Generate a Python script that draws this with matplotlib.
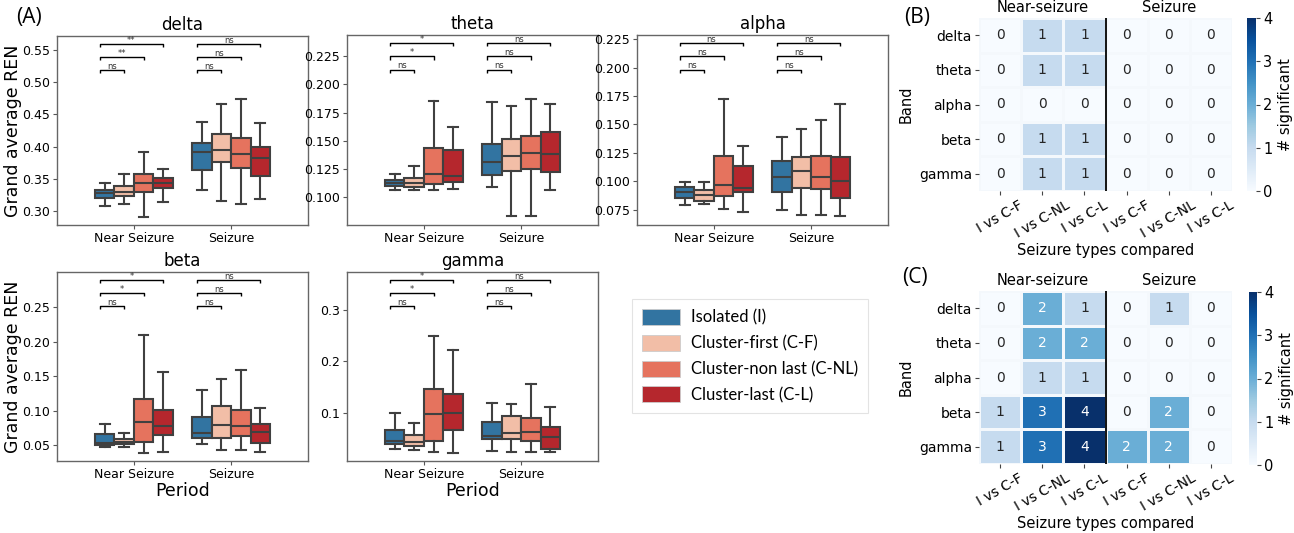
import matplotlib
matplotlib.use("Agg")
import matplotlib.pyplot as plt
import matplotlib.transforms as mtransforms
from matplotlib.patches import Patch
import numpy as np

# ---------------- data ----------------
bands = ["delta", "theta", "alpha", "beta", "gamma"]
periods = ["Near Seizure", "Seizure"]
types = ["Isolated (I)", "Cluster-first (C-F)", "Cluster-non last (C-NL)", "Cluster-last (C-L)"]
type_colors = ["#3274a1", "#f2bea7", "#e5735e", "#b5272d"]

# box stats: [whislo, q1, med, q3, whishi] per type, for Near Seizure and Seizure
delta_near = [[0.308, 0.320, 0.328, 0.333, 0.344], [0.310, 0.323, 0.330, 0.339, 0.357],
              [0.291, 0.330, 0.343, 0.357, 0.392], [0.314, 0.335, 0.343, 0.351, 0.365]]
delta_seiz = [[0.333, 0.364, 0.392, 0.406, 0.439], [0.315, 0.376, 0.395, 0.420, 0.467],
              [0.311, 0.367, 0.388, 0.413, 0.474], [0.318, 0.355, 0.383, 0.399, 0.437]]
theta_near = [[0.1068, 0.1103, 0.1127, 0.1150, 0.1203], [0.1062, 0.1091, 0.1124, 0.1168, 0.1277],
              [0.1062, 0.1121, 0.1206, 0.1433, 0.1855], [0.1074, 0.1136, 0.1189, 0.1422, 0.1625]]
theta_seiz = [[0.1089, 0.1198, 0.1315, 0.1469, 0.1840], [0.0835, 0.1230, 0.1369, 0.1519, 0.1808],
              [0.0835, 0.1248, 0.1389, 0.1543, 0.1873], [0.1068, 0.1221, 0.1386, 0.1581, 0.1825]]
alpha_near = [[0.0794, 0.0856, 0.0906, 0.0950, 0.0997], [0.0800, 0.0829, 0.0879, 0.0920, 0.0997],
              [0.0753, 0.0873, 0.0964, 0.1226, 0.1725], [0.0730, 0.0903, 0.0938, 0.1132, 0.1314]]
alpha_seiz = [[0.0744, 0.0903, 0.1041, 0.1182, 0.1390], [0.0706, 0.0938, 0.1088, 0.1217, 0.1460],
              [0.0706, 0.0929, 0.1038, 0.1223, 0.1540], [0.0691, 0.0853, 0.1003, 0.1217, 0.1683]]
beta_near = [[0.0481, 0.0505, 0.0538, 0.0659, 0.0803], [0.0481, 0.0519, 0.0553, 0.0587, 0.0673],
             [0.0394, 0.0548, 0.0841, 0.1163, 0.2091], [0.0404, 0.0649, 0.0779, 0.1005, 0.1553]]
beta_seiz = [[0.0524, 0.0601, 0.0673, 0.0913, 0.1303], [0.0428, 0.0611, 0.0793, 0.1072, 0.1462],
             [0.0428, 0.0635, 0.0779, 0.1014, 0.1596], [0.0399, 0.0538, 0.0692, 0.0812, 0.1034]]
gamma_near = [[0.0314, 0.0404, 0.0468, 0.0673, 0.1000], [0.0295, 0.0365, 0.0455, 0.0590, 0.0814],
              [0.0256, 0.0462, 0.0981, 0.1474, 0.2500], [0.0244, 0.0673, 0.1006, 0.1365, 0.2218]]
gamma_seiz = [[0.0269, 0.0500, 0.0570, 0.0840, 0.1205], [0.0256, 0.0506, 0.0615, 0.0949, 0.1173],
              [0.0250, 0.0474, 0.0641, 0.0917, 0.1558], [0.0256, 0.0314, 0.0551, 0.0737, 0.1122]]

box_data = {"delta": (delta_near, delta_seiz), "theta": (theta_near, theta_seiz),
            "alpha": (alpha_near, alpha_seiz), "beta": (beta_near, beta_seiz),
            "gamma": (gamma_near, gamma_seiz)}

# significance labels: I vs C-F, I vs C-NL, I vs C-L
sig_near = {"delta": ["ns", "**", "**"], "theta": ["ns", "*", "*"], "alpha": ["ns", "ns", "ns"],
            "beta": ["ns", "*", "*"], "gamma": ["ns", "*", "*"]}
sig_seiz = {b: ["ns", "ns", "ns"] for b in bands}

ylims = {"delta": (0.278, 0.572), "theta": (0.0755, 0.2436), "alpha": (0.0615, 0.2288),
         "beta": (0.0274, 0.3005), "gamma": (0.0083, 0.3724)}
yticks = {"delta": [0.30, 0.35, 0.40, 0.45, 0.50, 0.55],
          "theta": [0.100, 0.125, 0.150, 0.175, 0.200, 0.225],
          "alpha": [0.075, 0.100, 0.125, 0.150, 0.175, 0.200, 0.225],
          "beta": [0.05, 0.10, 0.15, 0.20, 0.25],
          "gamma": [0.1, 0.2, 0.3]}
ytick_fmt = {"delta": "{:.2f}", "theta": "{:.3f}", "alpha": "{:.3f}", "beta": "{:.2f}", "gamma": "{:.1f}"}

heat_cols = ["I vs C-F", "I vs C-NL", "I vs C-L", "I vs C-F", "I vs C-NL", "I vs C-L"]
heat_B = [[0, 1, 1, 0, 0, 0],
          [0, 1, 1, 0, 0, 0],
          [0, 0, 0, 0, 0, 0],
          [0, 1, 1, 0, 0, 0],
          [0, 1, 1, 0, 0, 0]]
heat_C = [[0, 2, 1, 0, 1, 0],
          [0, 2, 2, 0, 0, 0],
          [0, 1, 1, 0, 0, 0],
          [1, 3, 4, 0, 2, 0],
          [1, 3, 4, 2, 2, 0]]

# ---------------- figure ----------------
W, H = 1294, 533
fig = plt.figure(figsize=(W / 100, H / 100), dpi=100)
plt.rcParams["font.family"] = "DejaVu Sans"


def rect(x0, y0, x1, y1):
    return [x0 / W, 1 - y1 / H, (x1 - x0) / W, (y1 - y0) / H]


EDGE = "#404040"
ax_rects = {"delta": (57, 36, 308, 225), "theta": (347, 35, 598, 225), "alpha": (637, 35, 888, 225),
            "beta": (57, 272, 308, 461), "gamma": (347, 272, 598, 461)}
offsets = [-0.3, -0.1, 0.1, 0.3]

for band in bands:
    ax = fig.add_axes(rect(*ax_rects[band]))
    near, seiz = box_data[band]
    for pi, pdata in enumerate((near, seiz)):
        for ti, st in enumerate(pdata):
            s = dict(whislo=st[0], q1=st[1], med=st[2], q3=st[3], whishi=st[4], fliers=[])
            ax.bxp([s], positions=[pi + offsets[ti]], widths=0.2, capwidths=0.1,
                   patch_artist=True, showfliers=False, manage_ticks=False,
                   boxprops=dict(facecolor=type_colors[ti], edgecolor=EDGE, linewidth=1.5),
                   whiskerprops=dict(color=EDGE, linewidth=1.5),
                   capprops=dict(color=EDGE, linewidth=1.5),
                   medianprops=dict(color=EDGE, linewidth=1.5))
    ax.set_xlim(-0.79, 1.79)
    ax.set_ylim(*ylims[band])
    ax.set_xticks([0, 1])
    ax.set_xticklabels(periods, fontsize=9)
    ax.set_yticks(yticks[band])
    ax.set_yticklabels([ytick_fmt[band].format(v) for v in yticks[band]], fontsize=9)
    ax.tick_params(length=3, width=0.8, color="#555555", pad=2)
    for sp in ax.spines.values():
        sp.set_color("#666666")
        sp.set_linewidth(1.0)
    ax.set_title(band, fontsize=12, pad=4)
    if band in ("delta", "beta"):
        ax.set_ylabel("Grand average REN", fontsize=12.5, labelpad=0)
    if band in ("beta", "gamma"):
        ax.set_xlabel("Period", fontsize=12.5, labelpad=1)
    # significance brackets
    trans = mtransforms.blended_transform_factory(ax.transData, ax.transAxes)
    levels = [0.818, 0.887, 0.957]
    drop = 0.016
    for pi, sigs in enumerate((sig_near[band], sig_seiz[band])):
        x1 = pi + offsets[0] - 0.05
        for k, lab in enumerate(sigs):
            x2 = pi + offsets[k + 1]
            y = levels[k]
            ax.plot([x1, x1, x2, x2], [y - drop, y, y, y - drop], color="black", lw=1.0,
                    transform=trans, clip_on=False, solid_capstyle="butt")
            ax.text((x1 + x2) / 2, y - 0.004, lab, transform=trans, ha="center", va="bottom",
                    fontsize=6, color="#333333")

# panel letters
fig.text(16 / W, 1 - 17 / H, "(A)", fontsize=15, family="Open Sans", va="center", ha="left")
fig.text(904 / W, 1 - 17 / H, "(B)", fontsize=15, family="Open Sans", va="center", ha="left")
fig.text(902 / W, 1 - 277 / H, "(C)", fontsize=15, family="Open Sans", va="center", ha="left")

# legend
leg_ax = fig.add_axes(rect(627, 296, 873, 416))
leg_ax.axis("off")
handles = [Patch(facecolor=c, edgecolor="#cccccc", linewidth=0.6) for c in type_colors]
leg = leg_ax.legend(handles, types, loc="center", bbox_to_anchor=(0.5, 0.5), frameon=True,
                    prop={"family": "Lato", "size": 12}, handlelength=2.3, handleheight=1.1,
                    labelspacing=0.55, borderpad=0.6, handletextpad=0.65, borderaxespad=0,
                    fancybox=False)
leg.get_frame().set_edgecolor("#dddddd")
leg.get_frame().set_linewidth(0.8)

# heatmaps
cmap = plt.get_cmap("Blues")


def heatmap(vals, r, cbr):
    arr = np.array(vals)
    ax = fig.add_axes(rect(*r))
    cax = fig.add_axes(rect(*cbr))
    nr, nc = arr.shape
    im = ax.pcolormesh(np.arange(nc + 1), np.arange(nr + 1), arr, cmap=cmap, vmin=0, vmax=4,
                       edgecolors="#f4f8fc", linewidth=1)
    ax.set_xlim(0, nc)
    ax.set_ylim(nr, 0)
    for i in range(nr):
        for j in range(nc):
            v = arr[i, j]
            ax.text(j + 0.5, i + 0.5, str(v), ha="center", va="center", fontsize=10,
                    color="white" if v >= 2 else "#262626")
    ax.axvline(3, color="black", lw=1.3)
    ax.set_xticks(np.arange(nc) + 0.5)
    ax.set_xticklabels(heat_cols, rotation=30, ha="center", fontsize=10)
    ax.set_yticks(np.arange(nr) + 0.5)
    ax.set_yticklabels(bands, fontsize=10)
    ax.tick_params(length=3, width=0.8, color="#444444", pad=2)
    for sp in ax.spines.values():
        sp.set_visible(False)
    ax.set_ylabel("Band", fontsize=10.5, labelpad=4)
    ax.set_xlabel("Seizure types compared", fontsize=10.5, labelpad=2)
    ax.text(1.5, -0.1, "Near-seizure", ha="center", va="bottom", fontsize=10.5)
    ax.text(4.5, -0.1, "Seizure", ha="center", va="bottom", fontsize=10.5)
    cb = fig.colorbar(im, cax=cax, ticks=[0, 1, 2, 3, 4])
    cb.outline.set_visible(False)
    cb.ax.tick_params(labelsize=10.5, length=3, width=0.8, color="#444444", pad=2)
    cb.set_label("# significant", fontsize=10.5, labelpad=4)
    return ax


heatmap(heat_B, (979, 18, 1232, 191), (1247, 18, 1256, 191))
heatmap(heat_C, (979, 291, 1232, 464), (1249, 292, 1257, 465))

fig.savefig("out.png", dpi=100)
